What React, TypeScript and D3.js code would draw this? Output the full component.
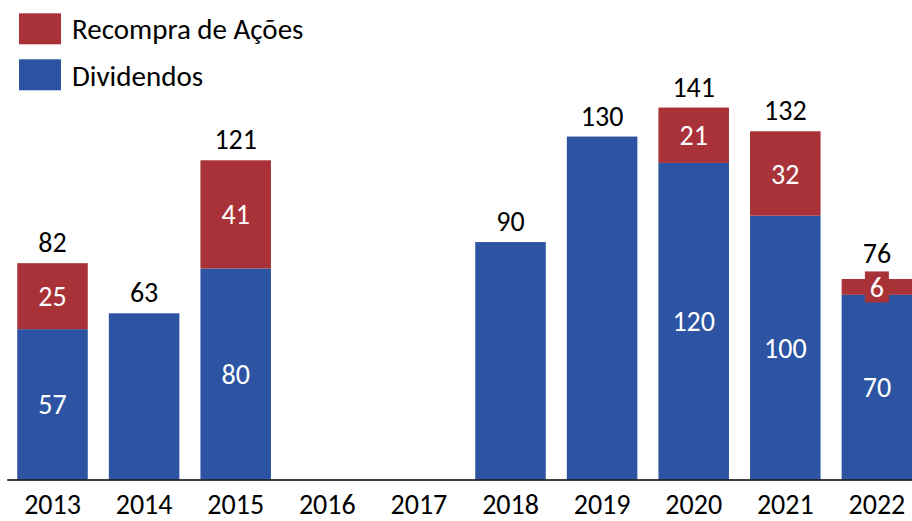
import React, { useEffect, useRef } from 'react';
import * as d3 from 'd3';

const years = ['2013', '2014', '2015', '2016', '2017', '2018', '2019', '2020', '2021', '2022'];
const dividendos = [57, 63, 80, 0, 0, 90, 130, 120, 100, 70];
const recompra = [25, 0, 41, 0, 0, 0, 0, 21, 32, 6];
const seriesNames = ['Recompra de Ações', 'Dividendos'];

const RED = '#A83237';
const BLUE = '#2C54A2';
const FONT = 'Carlito, Lato, sans-serif';

export default function App() {
  const node = useRef<SVGSVGElement>(null);

  useEffect(() => {
    document.body.style.margin = '0';
    const svg = d3.select(node.current);
    svg.selectAll('*').remove();

    const baseY = 479.5;

    const x = d3.scaleBand()
      .domain(years)
      .range([6.7, 922.7])
      .paddingInner(0.23)
      .paddingOuter(0.115);

    const y = d3.scaleLinear()
      .domain([0, 150])
      .range([baseY, baseY - 150 * 2.638]);

    const rows = years.map((yr, i) => ({
      year: yr,
      div: dividendos[i],
      rec: recompra[i],
      total: dividendos[i] + recompra[i],
    }));

    // blue bars
    svg.append('g').selectAll('rect')
      .data(rows.filter(d => d.div > 0))
      .enter().append('rect')
        .attr('x', d => x(d.year)!)
        .attr('width', x.bandwidth())
        .attr('y', d => y(d.div))
        .attr('height', d => y(0) - y(d.div))
        .attr('fill', BLUE);

    // red bars stacked on top
    svg.append('g').selectAll('rect')
      .data(rows.filter(d => d.rec > 0))
      .enter().append('rect')
        .attr('x', d => x(d.year)!)
        .attr('width', x.bandwidth())
        .attr('y', d => y(d.total))
        .attr('height', d => y(d.div) - y(d.total))
        .attr('fill', RED);

    // axis
    const axis = svg.append('g')
      .attr('transform', `translate(0, ${baseY})`)
      .call(d3.axisBottom(x).tickSize(0));
    axis.select('.domain').attr('stroke', '#000').attr('stroke-width', 1.5);
    axis.selectAll('text')
      .attr('y', 34)
      .attr('dy', null)
      .attr('fill', '#000')
      .style('font-family', FONT)
      .style('font-size', '28px');

    // segment labels (only on stacked bars); small segments get a box
    const stacked = rows.filter(d => d.rec > 0);
    const segs: { year: string; cx: number; cy: number; h: number; v: number; color: string }[] = [];
    stacked.forEach(d => {
      const cx = x(d.year)! + x.bandwidth() / 2;
      segs.push({ year: d.year, cx, cy: (y(d.div) + y(0)) / 2, h: y(0) - y(d.div), v: d.div, color: BLUE });
      segs.push({ year: d.year, cx, cy: (y(d.total) + y(d.div)) / 2, h: y(d.div) - y(d.total), v: d.rec, color: RED });
    });

    const boxTop: Record<string, number> = {};
    const lg = svg.append('g');
    segs.forEach(s => {
      if (s.h < 24) {
        lg.append('rect')
          .attr('x', s.cx - 12)
          .attr('y', s.cy - 15.5)
          .attr('width', 24)
          .attr('height', 31)
          .attr('fill', s.color);
        boxTop[s.year] = s.cy - 15.5;
      }
      lg.append('text')
        .attr('x', s.cx)
        .attr('y', s.cy)
        .attr('dy', '0.36em')
        .attr('text-anchor', 'middle')
        .style('font-family', FONT)
        .style('font-size', '28px')
        .attr('fill', '#fff')
        .text(s.v);
    });

    // totals above bars
    svg.append('g').selectAll('text')
      .data(rows.filter(d => d.total > 0))
      .enter().append('text')
        .attr('x', d => x(d.year)! + x.bandwidth() / 2)
        .attr('y', d => Math.min(y(d.total) - 11, (boxTop[d.year] ?? 1e9) - 8))
        .attr('text-anchor', 'middle')
        .style('font-family', FONT)
        .style('font-size', '28px')
        .attr('fill', '#000')
        .text(d => d.total);

    // legend
    const legend = svg.append('g');
    const colors = [RED, BLUE];
    seriesNames.forEach((name, i) => {
      legend.append('rect')
        .attr('x', 19)
        .attr('y', 13.3 + i * 46)
        .attr('width', 42)
        .attr('height', 31)
        .attr('fill', colors[i]);
      legend.append('text')
        .attr('x', 72)
        .attr('y', 39.3 + i * 46.5)
        .style('font-family', FONT)
        .style('font-size', '29px')
        .attr('fill', '#000')
        .text(name);
    });
  }, []);

  return (
    <svg ref={node} width={912} height={521} style={{ display: 'block', background: '#fff' }} />
  );
}
